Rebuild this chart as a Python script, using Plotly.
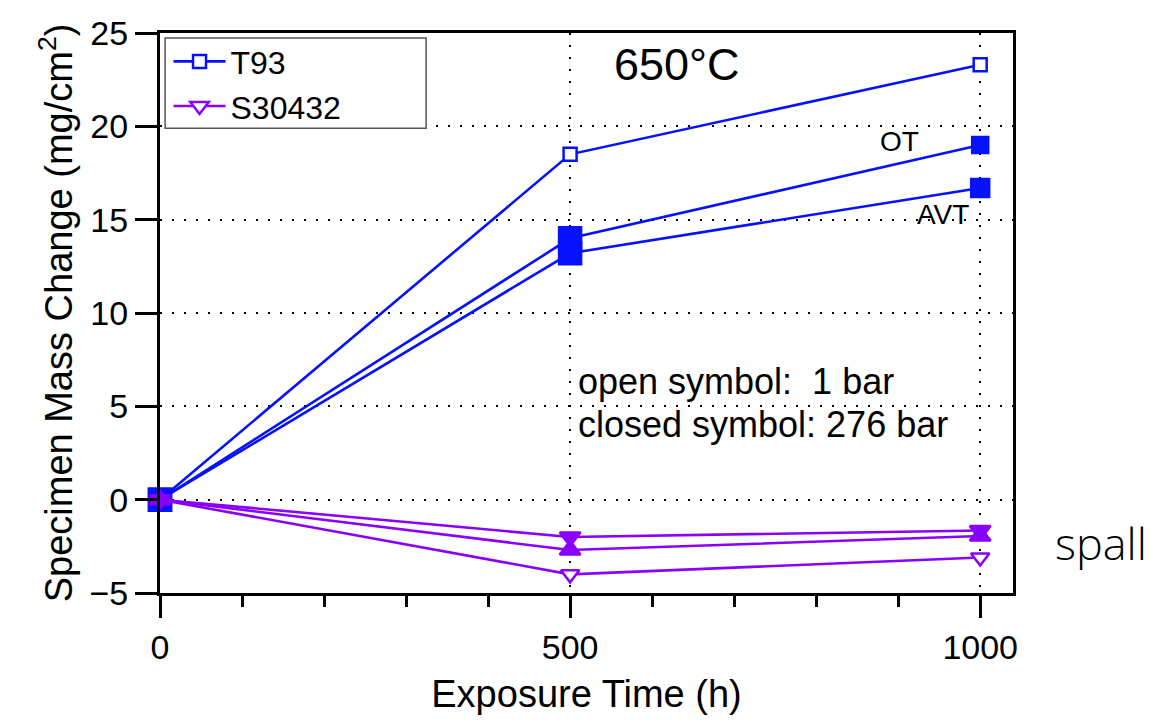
import plotly.graph_objects as go

# ---- data ----
hours = [0, 500, 1000]
t93_1bar = [0, 18.5, 23.3]          # open square
t93_ot = [0, 14.0, 19.0]            # closed square (OT)
t93_avt = [0, 13.2, 16.7]           # closed square (AVT)
s304_1bar = [0, -4.0, -3.1]         # open triangle-down
s304_ot = [0, -2.0, -1.65]          # closed triangle-down
s304_avt = [0, -2.7, -1.95]         # closed triangle-up

x_ticks = [0, 500, 1000]
y_ticks = [-5, 0, 5, 10, 15, 20, 25]
y_labels = ["\u22125", "0", "5", "10", "15", "20", "25"]

BLUE = "#0511ff"
PURPLE = "#8a00ff"
FONT = "Liberation Sans, Arial, sans-serif"

fig = go.Figure()

def add(y, color, symbol, size, name=None, show=False, filled=True):
    fig.add_trace(go.Scatter(
        x=hours, y=y, mode="lines+markers", name=name, showlegend=show,
        line=dict(color=color, width=2.6),
        marker=dict(symbol=symbol, size=size, opacity=1,
                    color=color if filled else "white",
                    line=dict(color=color, width=2.5)),
        opacity=1,
        cliponaxis=False,
    ))

# T93
add(t93_1bar, BLUE, "square", 13, name="T93", show=True, filled=False)
add(t93_ot, BLUE, "square", [22, 22, 16])
add(t93_avt, BLUE, "square", [22, 22, 18])
# S30432
add(s304_1bar, PURPLE, "triangle-down", 16, name="S30432", show=True, filled=False)
add(s304_ot, PURPLE, "triangle-down", 18)
add(s304_avt, PURPLE, "triangle-up", 18)

axis_common = dict(
    showline=True, linecolor="black", linewidth=3, mirror=True,
    ticks="outside", ticklen=22, tickwidth=3, tickcolor="black",
    showgrid=True, gridcolor="black", gridwidth=2, griddash="2px,10px",
    zeroline=False, tickfont=dict(family=FONT, size=34, color="black"),
)

fig.update_xaxes(
    range=[0, 1040], tickvals=x_ticks, ticktext=[str(v) for v in x_ticks],
    minor=dict(tickmode="linear", tick0=0, dtick=100, ticks="outside",
               ticklen=11, tickwidth=3, tickcolor="black", showgrid=False),
    title=dict(text="Exposure Time (h)", font=dict(family=FONT, size=38, color="black"),
               standoff=16),
    **axis_common,
)
fig.update_yaxes(
    range=[-5, 25], tickvals=y_ticks, ticktext=y_labels,
    title=dict(text="Specimen Mass Change (mg/cm<sup>2</sup>)",
               font=dict(family=FONT, size=38, color="black"), standoff=6),
    **axis_common,
)

# legend box
fig.add_shape(type="rect", xref="paper", yref="paper",
              x0=0.006, x1=0.312, y0=0.830, y1=0.991,
              line=dict(color="#555555", width=1.5), fillcolor="white", layer="above")

annots = [
    dict(x=630, y=23.3, text="650°C", size=45, xanchor="center"),
    dict(x=902, y=19.2, text="OT", size=28, xanchor="center"),
    dict(x=955, y=15.3, text="AVT", size=28, xanchor="center"),
    dict(x=507, y=6.35, text="open symbol:  1 bar", size=36, xanchor="left"),
    dict(x=507, y=4.05, text="closed symbol: 276 bar", size=36, xanchor="left"),
]
for a in annots:
    fig.add_annotation(x=a["x"], y=a["y"], xref="x", yref="y", text=a["text"],
                       showarrow=False, xanchor=a["xanchor"], yanchor="middle",
                       font=dict(family=FONT, size=a["size"], color="black"))

fig.add_annotation(x=1.047, y=0.09, xref="paper", yref="paper", text="spall",
                   showarrow=False, xanchor="left", yanchor="middle",
                   font=dict(family="Open Sans, DejaVu Sans, sans-serif", size=45,
                             color="black", weight=300))

fig.update_layout(
    width=1176, height=722,
    margin=dict(l=160, r=163, t=33, b=129),
    paper_bgcolor="white", plot_bgcolor="white",
    legend=dict(x=0.010, y=0.998, xanchor="left", yanchor="top",
                bgcolor="rgba(0,0,0,0)", borderwidth=0,
                font=dict(family=FONT, size=32, color="black"),
                tracegroupgap=0, itemwidth=52),
    font=dict(family=FONT, color="black"),
)

fig.write_html("out.html")
